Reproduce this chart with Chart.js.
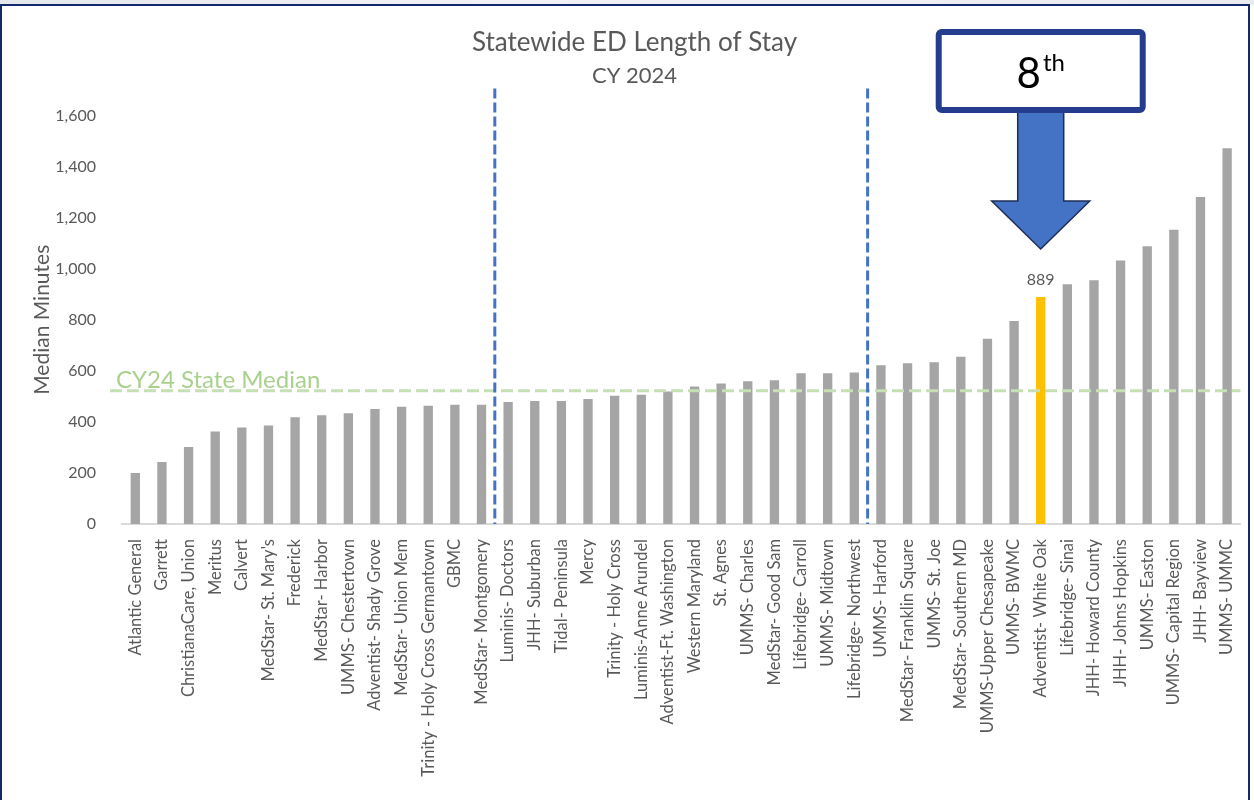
<!DOCTYPE html>
<html>
<head>
<meta charset="utf-8">
<script src="https://cdn.jsdelivr.net/npm/chart.js@4"></script>
<style>
  html,body{margin:0;padding:0;background:#fff;}
  body{width:1254px;height:800px;position:relative;overflow:hidden;}
  #strip{position:absolute;left:0;top:0;width:1254px;height:5px;background:linear-gradient(90deg,#e4e7ec,#f1f2f5 40%,#e9ebef);}
  #frame{position:absolute;left:0;top:4px;width:1250px;height:800px;border:2px solid #13296b;border-bottom:none;box-sizing:border-box;}
  canvas{position:absolute;left:0;top:0;}
</style>
</head>
<body>
<div id="strip"></div>
<div id="frame"></div>
<canvas id="c" width="1254" height="800"></canvas>
<script>
const categories = [
  "Atlantic General","Garrett","ChristianaCare, Union","Meritus","Calvert",
  "MedStar- St. Mary's","Frederick","MedStar- Harbor","UMMS- Chestertown","Adventist- Shady Grove",
  "MedStar- Union Mem","Trinity - Holy Cross Germantown","GBMC","MedStar- Montgomery",
  "Luminis- Doctors","JHH- Suburban","Tidal- Peninsula","Mercy","Trinity - Holy Cross",
  "Luminis-Anne Arundel","Adventist-Ft. Washington","Western Maryland","St. Agnes","UMMS- Charles",
  "MedStar- Good Sam","Lifebridge- Carroll","UMMS- Midtown","Lifebridge- Northwest",
  "UMMS- Harford","MedStar- Franklin Square","UMMS- St. Joe","MedStar- Southern MD",
  "UMMS-Upper Chesapeake","UMMS- BWMC","Adventist- White Oak","Lifebridge- Sinai",
  "JHH- Howard County","JHH- Johns Hopkins","UMMS- Easton","UMMS- Capital Region",
  "JHH- Bayview","UMMS- UMMC"
];
const medianMinutes = [
  200,243,302,362,378,
  386,418,426,434,451,
  459,463,467,467,
  478,482,482,490,502,
  506,519,539,550,559,
  563,591,591,594,
  622,630,634,655,
  726,795,889,939,
  955,1032,1088,1153,
  1281,1472
];
const stateMedian = 522;
const stateMedianLabel = "CY24 State Median";
const dividerAfter = [13, 27];
const highlightName = "Adventist- White Oak";
const rankText = "8";
const rankSuffix = "th";
const yTicks = [0,200,400,600,800,1000,1200,1400,1600];
const chartTitle = "Statewide ED Length of Stay";
const chartSubtitle = "CY 2024";
const yTitle = "Median Minutes";

const FONT = "Lato, 'Open Sans', sans-serif";
const GREY = '#595959';
const hiIndex = categories.indexOf(highlightName);
const barColors = categories.map((c,i)=> i===hiIndex ? '#FFC000' : '#A5A5A5');

function medianLine(chart){
  const {ctx, chartArea, scales:{y}} = chart;
  const my = y.getPixelForValue(stateMedian);
  ctx.save();
  ctx.strokeStyle = '#C5E0B4';
  ctx.lineWidth = 3;
  ctx.setLineDash([12,5]);
  ctx.beginPath();
  ctx.moveTo(chartArea.left-12, my);
  ctx.lineTo(chartArea.right, my);
  ctx.stroke();
  ctx.restore();
  return my;
}

const overlay = {
  id:'overlay',
  afterDatasetsDraw(chart){
    const {ctx, chartArea, scales:{x,y}} = chart;
    const my = medianLine(chart);
    ctx.save();
    ctx.fillStyle = '#A9D18E';
    ctx.font = "24px " + FONT;
    ctx.textAlign = 'left';
    ctx.textBaseline = 'alphabetic';
    ctx.fillText(stateMedianLabel, chartArea.left-6, my-3);
    ctx.strokeStyle = '#4472C4';
    ctx.lineWidth = 3;
    ctx.setLineDash([10,4]);
    dividerAfter.forEach(i=>{
      const px = (x.getPixelForValue(i) + x.getPixelForValue(i+1))/2;
      ctx.beginPath();
      ctx.moveTo(px, chartArea.top-27);
      ctx.lineTo(px, chartArea.bottom);
      ctx.stroke();
    });
    ctx.setLineDash([]);
    const bar = chart.getDatasetMeta(0).data[hiIndex];
    ctx.fillStyle = GREY;
    ctx.font = "16px " + FONT;
    ctx.textAlign = 'center';
    ctx.textBaseline = 'bottom';
    ctx.fillText(String(medianMinutes[hiIndex]), bar.x, bar.y-9);
    const cx = bar.x;
    const boxTop = 32, boxH = 78, boxW = 204;
    ctx.beginPath();
    ctx.moveTo(cx-23, boxTop+boxH);
    ctx.lineTo(cx+23, boxTop+boxH);
    ctx.lineTo(cx+23, 201);
    ctx.lineTo(cx+49, 201);
    ctx.lineTo(cx, 249);
    ctx.lineTo(cx-49, 201);
    ctx.lineTo(cx-23, 201);
    ctx.closePath();
    ctx.fillStyle = '#4472C4';
    ctx.fill();
    ctx.strokeStyle = '#1F2D55';
    ctx.lineWidth = 1.5;
    ctx.stroke();
    ctx.fillStyle = '#fff';
    ctx.strokeStyle = '#263C8E';
    ctx.lineWidth = 6;
    ctx.beginPath();
    if (ctx.roundRect) ctx.roundRect(cx-boxW/2, boxTop, boxW, boxH, 3);
    else ctx.rect(cx-boxW/2, boxTop, boxW, boxH);
    ctx.fill();
    ctx.stroke();
    ctx.fillStyle = '#000';
    ctx.textBaseline = 'alphabetic';
    ctx.textAlign = 'left';
    ctx.font = "42px " + FONT;
    const w1 = ctx.measureText(rankText).width;
    ctx.font = "24px " + FONT;
    const w2 = ctx.measureText(rankSuffix).width;
    const sx = cx - (w1+w2+2)/2;
    ctx.font = "42px " + FONT;
    ctx.fillText(rankText, sx, 88);
    ctx.font = "24px " + FONT;
    ctx.fillText(rankSuffix, sx+w1+2, 71);
    ctx.restore();
  }
};

new Chart(document.getElementById('c'), {
  type:'bar',
  data:{
    labels:categories,
    datasets:[{
      data:medianMinutes,
      backgroundColor:barColors,
      barPercentage:0.35,
      categoryPercentage:1.0
    }]
  },
  options:{
    responsive:false,
    animation:false,
    events:[],
    layout:{padding:{left:22,right:7,top:0,bottom:0}},
    plugins:{
      legend:{display:false},
      tooltip:{enabled:false},
      title:{display:true,text:chartTitle,color:GREY,
        font:{family:FONT,size:26,weight:'normal'},padding:{top:27,bottom:5}},
      subtitle:{display:true,text:chartSubtitle,color:GREY,
        font:{family:FONT,size:22,weight:'normal'},padding:{top:0,bottom:26}}
    },
    scales:{
      x:{
        grid:{display:false},
        border:{display:true,color:'#D9D9D9',width:2},
        ticks:{autoSkip:false,maxRotation:90,minRotation:90,color:GREY,
          font:{family:FONT,size:16.5},padding:7},
        afterFit(s){ s.height = 276; }
      },
      y:{
        min:0,max:1600,
        afterBuildTicks(s){ s.ticks = yTicks.map(v=>({value:v})); },
        grid:{display:false},
        border:{display:false},
        ticks:{color:GREY,font:{family:FONT,size:16},padding:18,
          callback:v=>v.toLocaleString('en-US')},
        title:{display:true,text:yTitle,color:GREY,
          font:{family:FONT,size:21},padding:{top:8,bottom:0}},
        afterFit(s){ s.width = 100; }
      }
    }
  },
  plugins:[overlay]
});
</script>
</body>
</html>
